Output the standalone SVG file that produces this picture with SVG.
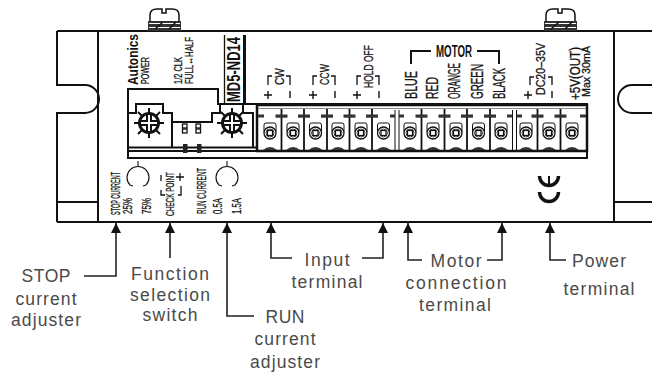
<svg xmlns="http://www.w3.org/2000/svg" xmlns:xlink="http://www.w3.org/1999/xlink" width="652" height="374" viewBox="0 0 652 374">
<style>
text{font-family:"Liberation Sans",Arial,sans-serif;fill:#111}
.l{font-size:17.500px;fill:#4a4a4a;text-anchor:middle}
.s{stroke:#111;stroke-width:.3}
.b{fill:none;stroke:#111;stroke-width:2}
.t{fill:none;stroke:#111;stroke-width:1.300}
</style>
<defs>
<marker id="ah" markerUnits="userSpaceOnUse" viewBox="0 0 10 10" refX="5" refY="0" markerWidth="10" markerHeight="10" orient="0"><path d="M5 0L10 10H0Z" fill="#111"/></marker>
<g id="screw">
<path d="M3 13V7Q3 1 10 1H15V5H19V1H25Q32 1 32 7V13" fill="#fff" stroke="#111" stroke-width="1.500"/>
<path d="M1 13H34V23H1Z" fill="#333"/>
<path d="M2 15.500H33M2 19.500H33" stroke="#fff" stroke-width="1.200"/>
<path d="M8 21L16 14M22 21L29 14" stroke="#111" stroke-width="1.500"/>
</g>
<g id="pot">
<path d="M0 -15V15M-15 0H15M-11 -11L11 11M11 -11L-11 11" stroke="#111" stroke-width="2"/>
<circle r="9.500" fill="#fff" stroke="#111" stroke-width="3"/>
<path d="M0 -9V9M-9 0H9" stroke="#111" stroke-width="6"/>
<path d="M0 -8V8M-8 0H8" stroke="#fff" stroke-width="2"/>
</g>
<g id="term">
<path d="M-6 16V9Q-6 7 -4 7H4Q6 7 6 9V16" fill="none" stroke="#111" stroke-width="1"/>
<circle cy="17" r="6" fill="#fff" stroke="#111" stroke-width="1.300"/>
<circle cy="17" r="4" fill="none" stroke="#111" stroke-width=".8"/>
<rect x="-2.500" y="14.500" width="5" height="5" fill="#fff" stroke="#111" stroke-width="1.200"/>
<path d="M-7 34Q0 28 7 34Z" fill="#333"/>
</g>
<g id="div">
<path d="M0 -7V34" stroke="#111" stroke-width="1.800"/>
<rect x="-6" y="-1.500" width="12" height="3.200" fill="#333"/>
</g>
<g id="arc"><path d="M-8 9A11 11 0 1 1 8 9M-8 9L-10 6.500M-8 9L-5 10M8 9L10 6.500M8 9L5 10M0 -15V-10" fill="none" stroke="#111" stroke-width="1.100"/></g>
</defs>

<g id="body">
<path class="b" d="M57 31H652M57 222H652"/>
<path class="b" d="M57 31V85H85A14 14 0 0 1 85 113H57V222"/>
<path class="b" d="M98 31V222M57 202H98"/>
<path class="b" d="M652 85H632A14 14 0 0 0 632 113H652M614 31V222M614 202H652"/>
<use xlink:href="#screw" href="#screw" x="147" y="8"/>
<use xlink:href="#screw" href="#screw" x="543" y="8"/>
</g>

<g id="panel">
<path class="b" d="M128 158V89H218V104H587V158Z"/>
<path class="b" d="M128 147.500H257M128 151H257"/>
<path class="b" d="M128 113H136V104H163V113H172V148M172 122H212V113H220V104H243V113H253V148"/>
</g>

<g id="stop-pot"><use xlink:href="#pot" href="#pot" x="149" y="123"/></g>
<g id="run-pot"><use xlink:href="#pot" href="#pot" x="232" y="123"/></g>

<g id="switch">
<g fill="none" stroke="#111" stroke-width="1.300">
<rect x="182.500" y="124" width="4.500" height="4"/><rect x="182.500" y="129" width="4.500" height="4"/>
<rect x="196" y="124" width="4.500" height="4"/><rect x="196" y="129" width="4.500" height="4"/>
</g>
<rect x="183" y="144" width="4.500" height="9" fill="#222"/><rect x="197" y="144" width="4.500" height="9" fill="#222"/>
</g>

<g id="terminal-block">
<rect x="257" y="105" width="330" height="46" fill="#fff" stroke="#111" stroke-width="2.500"/>
<path d="M258 108.500H586" stroke="#888" stroke-width="1"/>
<use xlink:href="#term" href="#term" x="270" y="116"/><use xlink:href="#term" href="#term" x="293" y="116"/><use xlink:href="#term" href="#term" x="315.500" y="116"/><use xlink:href="#term" href="#term" x="338" y="116"/><use xlink:href="#term" href="#term" x="361" y="116"/><use xlink:href="#term" href="#term" x="383.500" y="116"/>
<use xlink:href="#term" href="#term" x="410" y="116"/><use xlink:href="#term" href="#term" x="433" y="116"/><use xlink:href="#term" href="#term" x="456" y="116"/><use xlink:href="#term" href="#term" x="478.500" y="116"/><use xlink:href="#term" href="#term" x="501" y="116"/>
<use xlink:href="#term" href="#term" x="526" y="116"/><use xlink:href="#term" href="#term" x="549" y="116"/><use xlink:href="#term" href="#term" x="572" y="116"/>
<use xlink:href="#div" href="#div" x="281.500" y="116"/><use xlink:href="#div" href="#div" x="304" y="116"/><use xlink:href="#div" href="#div" x="327" y="116"/><use xlink:href="#div" href="#div" x="349.500" y="116"/><use xlink:href="#div" href="#div" x="372" y="116"/>
<use xlink:href="#div" href="#div" x="421.500" y="116"/><use xlink:href="#div" href="#div" x="444.500" y="116"/><use xlink:href="#div" href="#div" x="467" y="116"/><use xlink:href="#div" href="#div" x="490" y="116"/>
<use xlink:href="#div" href="#div" x="537.500" y="116"/><use xlink:href="#div" href="#div" x="560.500" y="116"/>
<path d="M395 110V150M399 110V150M512.500 110V150M516.500 110V150" stroke="#111" stroke-width="1"/>
<path d="M390 116H395M399 116H404M507 116H512.500M516.500 116H522M258 116H264M580 116H586" stroke="#333" stroke-width="3"/>
</g>

<g id="panel-labels">
<text transform="translate(138,85) rotate(-90)" font-size="15" font-weight="700" textLength="51" lengthAdjust="spacingAndGlyphs">Autonics</text>
<text class="s" transform="translate(149,84) rotate(-90)" font-size="11" textLength="27" lengthAdjust="spacingAndGlyphs">POWER</text>
<text class="s" transform="translate(182,84) rotate(-90)" font-size="11" textLength="27" lengthAdjust="spacingAndGlyphs">1/2 CLK</text>
<text class="s" transform="translate(193,84) rotate(-90)" font-size="11" textLength="47" lengthAdjust="spacingAndGlyphs">FULL↔HALF</text>
<g id="model"><path d="M224.500 35V103" stroke="#111" stroke-width="1.300"/><path d="M244.500 35V103" stroke="#111" stroke-width="3"/>
<text transform="translate(240,102) rotate(-90)" font-size="19" font-weight="700" textLength="65" lengthAdjust="spacingAndGlyphs">MD5-ND14</text></g>

<path class="t" d="M268 85V76H272M286 76H290V85M313 85V76H317M331 76H335V85M357 85V76H361M375 76H379V85M530 85V77H534M548 77H552V85"/>
<path d="M268 91V99M264 95H272M290 91V98M313 91V99M309 95H317M335 91V98M357 91V99M353 95H361M379 91V98M528 91V99M524 95H532M552 91V98" stroke="#111" stroke-width="1.400"/>
<text class="s" transform="translate(284,85) rotate(-90)" font-size="13" textLength="17" lengthAdjust="spacingAndGlyphs">CW</text>
<text class="s" transform="translate(329,85) rotate(-90)" font-size="13" textLength="21" lengthAdjust="spacingAndGlyphs">CCW</text>
<text class="s" transform="translate(373,88) rotate(-90)" font-size="13" textLength="43" lengthAdjust="spacingAndGlyphs">HOLD OFF</text>
<text class="s" transform="translate(417,99) rotate(-90)" font-size="16" textLength="28" lengthAdjust="spacingAndGlyphs">BLUE</text>
<text class="s" transform="translate(438,99) rotate(-90)" font-size="16" textLength="22" lengthAdjust="spacingAndGlyphs">RED</text>
<text class="s" transform="translate(460,99) rotate(-90)" font-size="16" textLength="36" lengthAdjust="spacingAndGlyphs">ORANGE</text>
<text class="s" transform="translate(483,99) rotate(-90)" font-size="16" textLength="35" lengthAdjust="spacingAndGlyphs">GREEN</text>
<text class="s" transform="translate(505,99) rotate(-90)" font-size="16" textLength="31" lengthAdjust="spacingAndGlyphs">BLACK</text>
<path class="b" stroke-width="1.500" d="M411 64V51H431M477 51H499V64"/>
<text x="436" y="57" font-size="16" font-weight="700" textLength="36" lengthAdjust="spacingAndGlyphs">MOTOR</text>
<text class="s" transform="translate(545,95) rotate(-90)" font-size="13" textLength="52" lengthAdjust="spacingAndGlyphs">DC20–35V</text>
<text class="s" transform="translate(580,100) rotate(-90)" font-size="15" textLength="53" lengthAdjust="spacingAndGlyphs">+5V(OUT)</text>
<text class="s" transform="translate(590,97) rotate(-90)" font-size="11" textLength="51" lengthAdjust="spacingAndGlyphs">Max 30mA</text>

<text class="s" transform="translate(120,215) rotate(-90)" font-size="12" textLength="43" lengthAdjust="spacingAndGlyphs">STOP CURRENT</text>
<text class="s" transform="translate(132,214) rotate(-90)" font-size="12" textLength="16" lengthAdjust="spacingAndGlyphs">25%</text>
<text class="s" transform="translate(151,214) rotate(-90)" font-size="12" textLength="16" lengthAdjust="spacingAndGlyphs">75%</text>
<text class="s" transform="translate(174,216) rotate(-90)" font-size="11" textLength="44" lengthAdjust="spacingAndGlyphs">CHECK POINT</text>
<path d="M161 175V181M176 177H184M180 173V181M161 190V195H165M181 186V195H178" class="t"/>
<text class="s" transform="translate(206,214) rotate(-90)" font-size="12" textLength="46" lengthAdjust="spacingAndGlyphs">RUN CURRENT</text>
<text class="s" transform="translate(222,214) rotate(-90)" font-size="12" textLength="16" lengthAdjust="spacingAndGlyphs">0.5A</text>
<text class="s" transform="translate(241,214) rotate(-90)" font-size="12" textLength="16" lengthAdjust="spacingAndGlyphs">1.5A</text>
<use xlink:href="#arc" href="#arc" x="138" y="176"/>
<use xlink:href="#arc" href="#arc" x="227" y="176"/>
</g>

<g id="ce-mark" fill="none" stroke="#111">
<path d="M539.500 176A9.500 9.500 0 0 0 558.500 176" stroke-width="3.500"/>
<path d="M549 176V186" stroke-width="2"/>
<path d="M539.500 192A9.500 9.500 0 0 0 558.500 192" stroke-width="3.500"/>
</g>

<g id="connectors" fill="none" stroke="#222" stroke-width="1.600">
<path marker-start="url(#ah)" d="M116 223V276H84"/>
<path marker-start="url(#ah)" d="M170 223V258"/>
<path marker-start="url(#ah)" d="M227 223V316H254"/>
<path marker-start="url(#ah)" d="M271 223V258H292"/>
<path marker-start="url(#ah)" d="M383 223V258H362"/>
<path marker-start="url(#ah)" d="M408 223V260H422"/>
<path marker-start="url(#ah)" d="M502 223V260H487"/>
<path marker-start="url(#ah)" d="M550 223V260H566"/>
</g>

<g id="label-stop"><text class="l" x="46" y="282" textLength="49">STOP</text><text class="l" x="46" y="305" textLength="61">current</text><text class="l" x="46" y="326" textLength="70">adjuster</text></g>
<g id="label-function"><text class="l" x="170" y="280" textLength="78">Function</text><text class="l" x="170" y="301" textLength="80">selection</text><text class="l" x="170" y="321" textLength="55">switch</text></g>
<g id="label-run"><text class="l" x="285" y="323" textLength="39">RUN</text><text class="l" x="285" y="345" textLength="61">current</text><text class="l" x="285" y="368" textLength="70">adjuster</text></g>
<g id="label-input"><text class="l" x="327" y="266" textLength="45">Input</text><text class="l" x="327" y="288" textLength="71">terminal</text></g>
<g id="label-motor"><text class="l" x="456" y="267" textLength="51">Motor</text><text class="l" x="456" y="289" textLength="101">connection</text><text class="l" x="455" y="311" textLength="72">terminal</text></g>
<g id="label-power"><text class="l" x="599" y="267" textLength="54">Power</text><text class="l" x="599" y="295" textLength="71">terminal</text></g>
</svg>
